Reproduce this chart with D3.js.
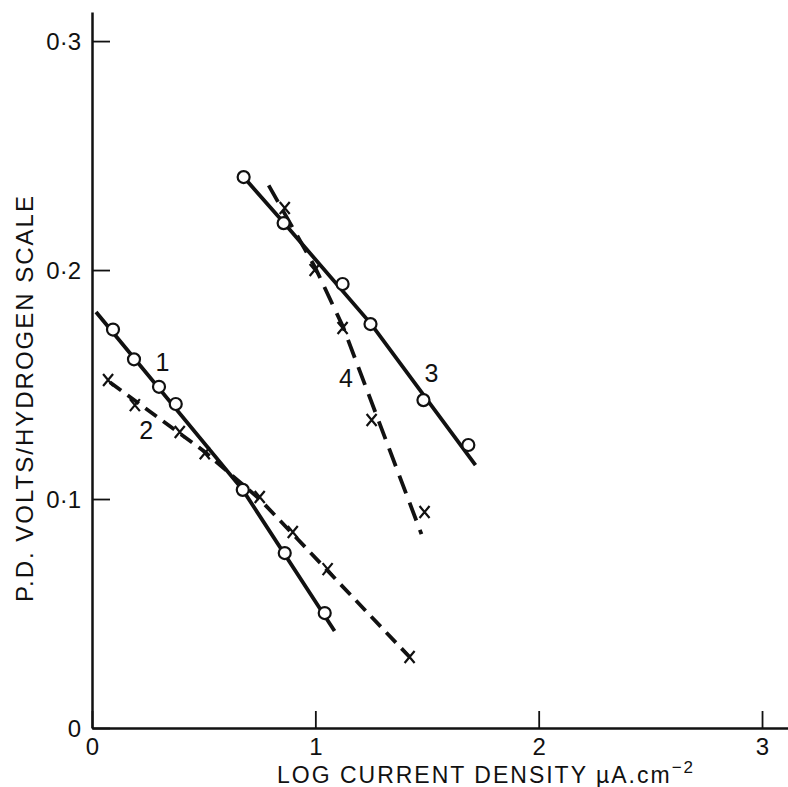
<!DOCTYPE html>
<html>
<head>
<meta charset="utf-8">
<script src="https://cdn.jsdelivr.net/npm/d3@7"></script>
<style>
  body { margin: 0; background: #fff; }
  svg { display: block; }
  .axis path, .axis line { stroke: #111; }
  .axis text { font-family: "Liberation Sans", Arial, sans-serif; font-size: 24px; fill: #111; }
</style>
</head>
<body>
<div class="chart"></div>
<script>
// values (x = log current density, y = P.D. volts)
var curve1 = [[0.094, 0.174], [0.188, 0.161], [0.300, 0.149], [0.375, 0.1415], [0.675, 0.104], [0.863, 0.0764], [1.042, 0.0502]];
var fit1 = [[0.018, 0.1817], [0.675, 0.104], [1.086, 0.0424]];

var curve2 = [[0.072, 0.152], [0.192, 0.141], [0.393, 0.1293], [0.505, 0.120], [0.751, 0.1009], [0.899, 0.0856], [1.055, 0.0694], [1.422, 0.031]];
var fit2 = [[0.08, 0.151], [0.50, 0.121], [0.75, 0.100], [1.422, 0.031]];

var curve3 = [[0.679, 0.2406], [0.858, 0.2205], [1.122, 0.1939], [1.247, 0.1764], [1.484, 0.1432], [1.685, 0.1236]];
var fit3 = [[0.679, 0.2406], [0.86, 0.2205], [1.25, 0.1764], [1.717, 0.1148]];

var curve4 = [[0.863, 0.2271], [0.997, 0.200], [1.122, 0.1747], [1.252, 0.1345], [1.489, 0.0943]];
var fit4 = [[0.791, 0.237], [1.0, 0.201], [1.125, 0.175], [1.475, 0.0847]];

var curveLabels = [["1", 0.315, 0.160], ["2", 0.243, 0.130], ["3", 1.520, 0.155], ["4", 1.137, 0.153]];

var xTicks = [0, 1, 2, 3];
var yTicks = [0, 0.1, 0.2, 0.3];

var width = 788, height = 787;

var svg = d3.select(".chart").append("svg")
    .attr("width", width)
    .attr("height", height);

// scales
var x = d3.scaleLinear().domain([0, 3.1163]).range([92, 788]);
var y = d3.scaleLinear().domain([0, 0.3127]).range([728, 12]);

// axes
svg.append("g")
    .attr("class", "axis axis--x")
    .attr("transform", "translate(0," + y(0) + ")")
    .call(d3.axisBottom(x)
        .tickValues(xTicks)
        .tickSizeInner(-17)
        .tickSizeOuter(0)
        .tickPadding(10)
        .tickFormat(function (d) { return d; }))
    .call(function (g) {
        g.select(".domain").attr("stroke-width", 2.5);
        g.selectAll(".tick line").attr("stroke-width", 1.8);
    });

svg.append("g")
    .attr("class", "axis axis--y")
    .attr("transform", "translate(" + x(0) + ",0)")
    .call(d3.axisLeft(y)
        .tickValues(yTicks)
        .tickSizeInner(-18)
        .tickSizeOuter(0)
        .tickPadding(11)
        .tickFormat(function (d) { return d === 0 ? "0" : String(d).replace(".", "\u00b7"); }))
    .call(function (g) {
        g.select(".domain").attr("stroke-width", 2.5);
        g.selectAll(".tick line").attr("stroke-width", 1.8);
        g.selectAll(".tick text").attr("dy", "0.36em");
    });

// axis titles
svg.append("text")
    .attr("x", 486)
    .attr("y", 783)
    .attr("text-anchor", "middle")
    .style("font-family", "'Liberation Sans', Arial, sans-serif")
    .style("font-size", "23px")
    .style("letter-spacing", "2px")
    .attr("fill", "#111")
    .text("LOG CURRENT DENSITY  \u00b5A.cm")
    .append("tspan")
    .attr("dy", -10)
    .style("font-size", "17px")
    .text("\u22122");

svg.append("text")
    .attr("transform", "translate(33,398) rotate(-90)")
    .attr("text-anchor", "middle")
    .style("font-family", "'Liberation Sans', Arial, sans-serif")
    .style("font-size", "24px")
    .style("letter-spacing", "2px")
    .attr("fill", "#111")
    .text("P.D. VOLTS/HYDROGEN  SCALE");

// fitted lines
var line = d3.line()
    .x(function (d) { return x(d[0]); })
    .y(function (d) { return y(d[1]); });

var fits = [
    {data: fit1, dash: null},
    {data: fit2, dash: "14,8"},
    {data: fit3, dash: null},
    {data: fit4, dash: "19,10"}
];

svg.selectAll(".fit")
    .data(fits)
    .enter().append("path")
    .attr("class", "fit")
    .attr("d", function (d) { return line(d.data); })
    .attr("fill", "none")
    .attr("stroke", "#111")
    .attr("stroke-width", 3.8)
    .attr("stroke-dasharray", function (d) { return d.dash; });

// open circle points
svg.selectAll(".circ")
    .data(curve1.concat(curve3))
    .enter().append("circle")
    .attr("class", "circ")
    .attr("cx", function (d) { return x(d[0]); })
    .attr("cy", function (d) { return y(d[1]); })
    .attr("r", 6)
    .attr("fill", "#fff")
    .attr("stroke", "#111")
    .attr("stroke-width", 2.2);

// cross points
svg.selectAll(".cross")
    .data(curve2.concat(curve4))
    .enter().append("path")
    .attr("class", "cross")
    .attr("transform", function (d) { return "translate(" + x(d[0]) + "," + y(d[1]) + ")"; })
    .attr("d", "M-5,-6L5,6M5,-6L-5,6")
    .attr("fill", "none")
    .attr("stroke", "#111")
    .attr("stroke-width", 2.2);

// curve numbers
svg.selectAll(".lab")
    .data(curveLabels)
    .enter().append("text")
    .attr("class", "lab")
    .attr("x", function (d) { return x(d[1]); })
    .attr("y", function (d) { return y(d[2]); })
    .attr("text-anchor", "middle")
    .attr("dy", "0.36em")
    .style("font-family", "'Liberation Sans', Arial, sans-serif")
    .style("font-size", "25px")
    .attr("fill", "#111")
    .text(function (d) { return d[0]; });
</script>
</body>
</html>
